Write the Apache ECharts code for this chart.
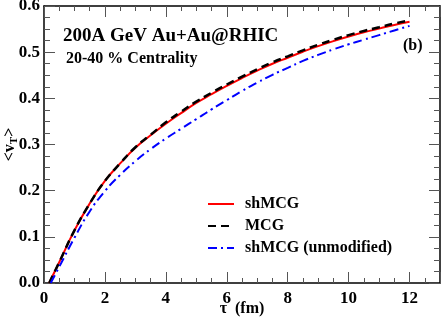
<!DOCTYPE html>
<html>
<head>
<meta charset="utf-8">
<script src="https://cdn.jsdelivr.net/npm/echarts@6/dist/echarts.min.js"></script>
<style>
html,body{margin:0;padding:0;background:#fff;}
#c{width:442px;height:318px;}
</style>
</head>
<body>
<div id="c"></div>
<script>
// Data
var tau = [0.5,1,1.5,2,2.5,3,3.5,4,4.5,5,5.5,6,6.5,7,7.5,8,8.5,9,9.5,10,10.5,11,11.5,12];
var shMCG = [0.045,0.114,0.172,0.221,0.259,0.293,0.320,0.345,0.368,0.390,0.409,0.427,0.444,0.460,0.475,0.488,0.501,0.513,0.524,0.534,0.543,0.551,0.559,0.566];
var MCG   = [0.045,0.114,0.172,0.221,0.259,0.294,0.321,0.348,0.371,0.393,0.412,0.430,0.447,0.463,0.478,0.491,0.504,0.516,0.527,0.537,0.546,0.554,0.562,0.569];
var shMCGunmod = [0.035,0.098,0.155,0.199,0.234,0.264,0.290,0.313,0.334,0.355,0.376,0.396,0.416,0.434,0.451,0.466,0.481,0.494,0.506,0.517,0.527,0.537,0.547,0.557];
var startRed = 0.17, startBlack = 0.17, startBlue = 0.22;
var xTicks = [0,2,4,6,8,10,12];
var yTicks = ['0.0','0.1','0.2','0.3','0.4','0.5','0.6'];

function pairs(start, xs, ys){
  var out = [[start, 0]];
  for (var i = 0; i < xs.length; i++) out.push([xs[i], ys[i]]);
  return out;
}

var font = 'Liberation Serif';
var chart = echarts.init(document.getElementById('c'), null, {renderer:'canvas'});

var tickStyle = {color:'#555', width:1};
function xAx(pos, show){
  return {
    type:'value', position:pos, min:0, max:13, interval:2,
    axisLine:{show:true, onZero:false, lineStyle:{color:'#000', width:1.5}},
    axisTick:{show:true, inside:true, length:11, lineStyle:tickStyle},
    minorTick:{show:true, splitNumber:4, length:5, lineStyle:tickStyle},
    splitLine:{show:false},
    axisLabel:{show:show, fontFamily:font, fontWeight:'bold', fontSize:17, color:'#000', margin:7,
      showMaxLabel:false,
      formatter:function(v){ return xTicks.indexOf(v) >= 0 ? String(v) : ''; }},
    name: show ? 'τ  (fm)' : '',
    nameLocation:'middle', nameGap:18, nameMoveOverlap:false,
    nameTextStyle:{fontFamily:font, fontWeight:'bold', fontSize:16, color:'#000'}
  };
}
function yAx(pos, show){
  return {
    type:'value', position:pos, min:0, max:0.6, interval:0.1,
    axisLine:{show:true, onZero:false, lineStyle:{color:'#000', width:1.5}},
    axisTick:{show:true, inside:true, length:11, lineStyle:tickStyle},
    minorTick:{show:true, splitNumber:4, length:6, lineStyle:tickStyle},
    splitLine:{show:false},
    axisLabel:{show:show, fontFamily:font, fontWeight:'bold', fontSize:17, color:'#000', margin:4,
      formatter:function(v){ return yTicks[Math.round(v*10)]; }},
    name: show ? '{a|<v}{s|T}{a|>}' : '',
    nameLocation:'middle', nameGap:24, nameRotate:90, nameMoveOverlap:false,
    nameTextStyle:{rich:{
      a:{fontFamily:font, fontWeight:'bold', fontSize:16, color:'#000'},
      s:{fontFamily:font, fontWeight:'bold', fontSize:11, color:'#000', padding:[9,0,0,0]}
    }}
  };
}

chart.setOption({
  animation:false,
  backgroundColor:'#fff',
  grid:{left:44, right:2, top:6, bottom:35, containLabel:false, outerBoundsMode:'none'},
  xAxis:[xAx('bottom', true), xAx('top', false)],
  yAxis:[yAx('left', true), yAx('right', false)],
  legend:{
    orient:'vertical', left:202, top:191, itemWidth:26, itemHeight:14, itemGap:6,
    itemStyle:{opacity:0},
    textStyle:{fontFamily:font, fontWeight:'bold', fontSize:16, color:'#000', padding:[0,0,0,6]},
    data:['shMCG','MCG','shMCG (unmodified)']
  },
  graphic:[
    {type:'text', left:63, top:27, style:{text:'200A GeV Au+Au@RHIC', font:'bold 19px "Liberation Serif"', fill:'#000'}},
    {type:'text', left:66, top:51, style:{text:'20-40 % Centrality', font:'bold 16px "Liberation Serif"', fill:'#000'}},
    {type:'text', left:403, top:38, style:{text:'(b)', font:'bold 16px "Liberation Serif"', fill:'#000'}}
  ],
  series:[
    {name:'shMCG', type:'line', showSymbol:false, symbol:'none', smooth:true, xAxisIndex:0, yAxisIndex:0,
     lineStyle:{color:'#ff0000', width:2}, itemStyle:{color:'#ff0000'},
     data:pairs(startRed, tau, shMCG)},
    {name:'MCG', type:'line', showSymbol:false, symbol:'none', smooth:true, xAxisIndex:0, yAxisIndex:0,
     lineStyle:{color:'#000', width:2.5, type:[8,5]}, itemStyle:{color:'#000'},
     data:pairs(startBlack, tau, MCG)},
    {name:'shMCG (unmodified)', type:'line', showSymbol:false, symbol:'none', smooth:true, xAxisIndex:0, yAxisIndex:0,
     lineStyle:{color:'#0000ff', width:2, type:[9,4,2,4]}, itemStyle:{color:'#0000ff'},
     data:pairs(startBlue, tau, shMCGunmod)}
  ]
});
</script>
</body>
</html>
